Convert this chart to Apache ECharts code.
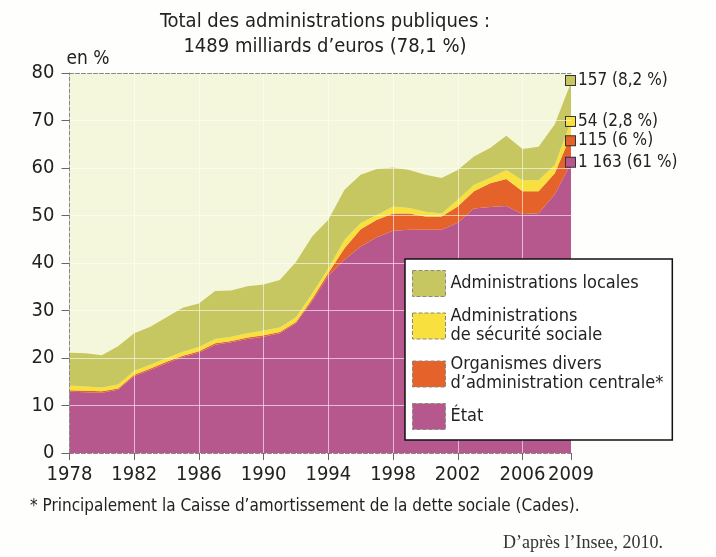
<!DOCTYPE html>
<html>
<head>
<meta charset="utf-8">
<script src="https://cdn.jsdelivr.net/npm/echarts@6/dist/echarts.min.js"></script>
<style>
html,body{margin:0;padding:0;background:#fefefc;}
#c{width:716px;height:557px;}
</style>
</head>
<body>
<div id="c"></div>
<script>
// ---- data ----
const years = ['1978','1979','1980','1981','1982','1983','1984','1985','1986','1987','1988','1989','1990','1991','1992','1993','1994','1995','1996','1997','1998','1999','2000','2001','2002','2003','2004','2005','2006','2007','2008','2009'];
const etat = [12.9,12.8,12.7,13.3,16.2,17.5,18.9,20.2,21.1,22.8,23.3,24.0,24.5,25.2,27.3,32.0,37.3,40.7,43.5,45.4,46.8,47.0,47.0,47.0,48.5,51.5,51.8,52.0,50.3,50.5,54.5,61.0];
const odac = [0.3,0.3,0.3,0.3,0.3,0.3,0.3,0.3,0.3,0.3,0.3,0.3,0.3,0.3,0.3,0.4,0.6,2.4,3.6,3.7,3.6,3.4,2.8,2.8,3.4,3.6,5.0,5.7,4.8,4.6,4.4,6.0];
const asso = [1.0,0.9,0.8,0.8,0.8,0.8,0.8,0.8,0.9,0.9,0.9,0.9,1.0,0.9,1.0,1.2,1.0,1.8,1.3,1.0,1.5,1.2,1.0,0.6,1.4,1.4,1.1,1.9,2.3,2.3,1.8,2.8];
const apul = [6.9,7.0,6.8,8.1,7.9,8.0,8.6,9.3,9.2,10.1,9.7,9.9,9.7,10.0,11.6,12.0,10.2,10.5,10.2,9.7,8.2,8.0,7.8,7.5,6.3,5.9,6.3,7.2,6.6,7.1,8.5,8.2];
const seriesNames = ['État', 'Organismes divers\nd\u2019administration centrale*', 'Administrations\nde sécurité sociale', 'Administrations locales'];
const endLabels = ['1 163 (61 %)', '115 (6 %)', '54 (2,8 %)', '157 (8,2 %)'];
const yTicks = [0,10,20,30,40,50,60,70,80];
const titleText = 'Total des administrations publiques :\n1489 milliards d\u2019euros (78,1 %)';
const footnote = '* Principalement la Caisse d\u2019amortissement de la dette sociale (Cades).';
const sourceText = 'D\u2019après l\u2019Insee, 2010.';

// ---- styles ----
const FONT = "'DejaVu Sans Condensed','DejaVu Sans',sans-serif";
const colors = ['#b6588e', '#e5632b', '#f8e03e', '#c6c760'];
const labelOffsets = [[0,-1],[0,6],[0,0],[0,-2]];

const chart = echarts.init(document.getElementById('c'));
const last = years.length - 1;
const showIdx = i => i % 4 === 0 || i === last;

function mkSeries(idx, vals) {
  return {
    name: seriesNames[idx],
    type: 'line',
    stack: 'total',
    symbol: 'none',
    lineStyle: {width: 0},
    areaStyle: {color: colors[idx], opacity: 1},
    itemStyle: {color: colors[idx]},
    z: 2,
    endLabel: {
      show: true, distance: -5, offset: labelOffsets[idx],
      formatter: () => '{sq|}{t|' + endLabels[idx] + '}',
      rich: {
        sq: {width: 9, height: 9, backgroundColor: colors[idx], borderColor: '#333', borderWidth: 1},
        t: {fontFamily: FONT, fontSize: 17, color: '#222', padding: [0,0,0,3]}
      }
    },
    data: vals
  };
}

chart.setOption({
  animation: false,
  backgroundColor: '#fefefc',
  title: [
    {text: titleText, left: 320, top: 4, textAlign: 'center',
     textStyle: {fontFamily: FONT, fontSize: 20, fontWeight: 'normal', color: '#222', lineHeight: 25}},
    {text: footnote, left: 25, top: 493,
     textStyle: {fontFamily: FONT, fontSize: 17, fontWeight: 'normal', color: '#222'}},
    {text: sourceText, right: 48, top: 529,
     textStyle: {fontFamily: "'Liberation Serif',serif", fontSize: 18, fontWeight: 'normal', color: '#333'}}
  ],
  legend: {
    orient: 'vertical', left: 405, top: 259,
    padding: [11, 9, 10, 7], itemGap: 10,
    itemWidth: 33, itemHeight: 26, icon: 'rect',
    backgroundColor: '#ffffff', borderColor: '#111', borderWidth: 1.5,
    itemStyle: {borderColor: '#8a8a7a', borderWidth: 1, borderType: 'dashed'},
    textStyle: {fontFamily: FONT, fontSize: 18, color: '#222', lineHeight: 19},
    data: [seriesNames[3], seriesNames[2], seriesNames[1], seriesNames[0]],
    z: 10
  },
  grid: {left: 69.5, right: 145, top: 73, bottom: 104, show: true, backgroundColor: '#f4f7dc', borderWidth: 0},
  xAxis: [{
    type: 'category', data: years, boundaryGap: false, z: 3,
    axisLine: {lineStyle: {color: '#888', type: 'dashed', width: 1}},
    axisTick: {show: true, interval: (i) => showIdx(i), length: 7, lineStyle: {color: '#666'}},
    axisLabel: {interval: (i) => showIdx(i), margin: 12, fontFamily: FONT, fontSize: 20, color: '#222'},
    splitLine: {show: true, interval: (i) => i % 4 === 0 && i > 0, lineStyle: {color: 'rgba(255,255,255,0.6)', width: 1}}
  }, {
    type: 'category', data: years, boundaryGap: false, position: 'top', z: 3,
    axisLine: {show: true, lineStyle: {color: '#888', type: 'dashed', width: 1}},
    axisTick: {show: false}, axisLabel: {show: false}, splitLine: {show: false}
  }],
  yAxis: {
    type: 'value', min: 0, max: 80, interval: 10, z: 3,
    name: 'en %', nameLocation: 'end', nameGap: 4,
    nameTextStyle: {fontFamily: FONT, fontSize: 19, color: '#222', align: 'left', padding: [0,0,0,-3]},
    axisLine: {show: true, lineStyle: {color: '#888', type: 'dashed', width: 1}},
    axisTick: {show: true, length: 8, lineStyle: {color: '#666'}},
    axisLabel: {margin: 15, fontFamily: FONT, fontSize: 20, color: '#222',
      formatter: v => yTicks.indexOf(v) >= 0 ? String(v) : ''},
    splitLine: {show: true, lineStyle: {color: 'rgba(255,255,255,0.6)', width: 1}}
  },
  series: [mkSeries(0, etat), mkSeries(1, odac), mkSeries(2, asso), mkSeries(3, apul)]
});
</script>
</body>
</html>
